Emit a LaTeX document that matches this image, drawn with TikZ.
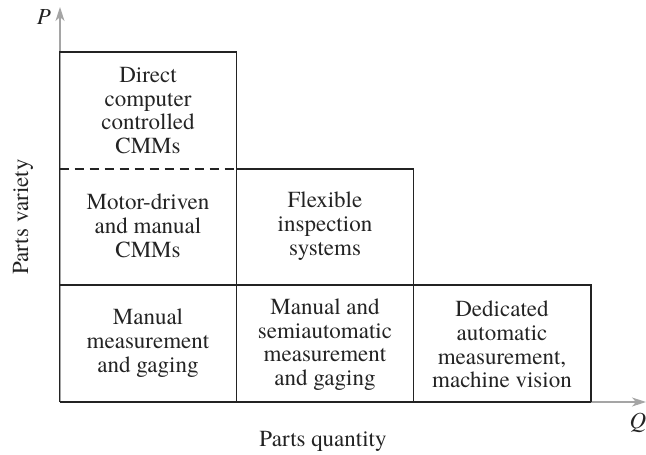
\documentclass[tikz,border=0pt]{standalone}
\usepackage{fontspec}
\setmainfont{TeX Gyre Termes}
\usetikzlibrary{arrows.meta}
\definecolor{axisgray}{RGB}{165,165,165}
\definecolor{boxline}{RGB}{35,35,35}
\tikzset{
  axisline/.style={draw=axisgray, line width=1.2pt, -{Stealth[length=14pt,width=9pt,inset=4pt]}},
  cellline/.style={draw=boxline, line width=1.4pt},
  dashline/.style={draw=boxline, line width=1.4pt, dash pattern=on 9.5pt off 5.5pt},
  celltext/.style={align=center, inner sep=0pt, font=\rmfamily\fontsize{23}{23.7}\selectfont, text=boxline},
  axistext/.style={inner sep=0pt, font=\rmfamily\fontsize{23}{23.7}\selectfont, text=boxline},
}
\begin{document}
\begin{tikzpicture}[x=1pt, y=-1pt]
\useasboundingbox (0,0) rectangle (646,455);
% axes
\coordinate (O) at (60,402);
\coordinate (Ptip) at (60,7);
\coordinate (Qtip) at (646,402);
\draw[axisline] (O) -- (Ptip);
\draw[axisline] (O) -- (Qtip);
% cell corners
\coordinate (a1) at (59.5,52);
\coordinate (a2) at (236.5,52);
\coordinate (b0) at (59.5,169);
\coordinate (b1) at (236.5,169);
\coordinate (b2) at (413.5,169);
\coordinate (c0) at (59.5,285);
\coordinate (c3) at (591,285);
\coordinate (d0) at (59.5,402);
\coordinate (d1) at (236.5,402);
\coordinate (d2) at (413.5,402);
\coordinate (d3) at (591,402);
% outlines
\draw[cellline] (d0) -- (a1) -- (a2) -- (d1);
\draw[dashline] (b0) -- (b1);
\draw[cellline] (b1) -- (b2) -- (d2);
\draw[cellline] (c0) -- (c3) -- (d3);
\draw[cellline] (d0) -- (d3);
% texts
\node[celltext] (t1) at (148,110.5) {Direct\\computer\\controlled\\CMMs};
\node[celltext] (t2) at (148,226) {Motor-driven\\and manual\\CMMs};
\node[celltext] (t3) at (325,226) {Flexible\\inspection\\systems};
\node[celltext] (t4) at (148,343) {Manual\\measurement\\and gaging};
\node[celltext] (t5) at (325,344.5) {Manual and\\semiautomatic\\measurement\\and gaging};
\node[celltext] (t6) at (502,344.5) {Dedicated\\automatic\\measurement,\\machine vision};
% axis labels
\node[axistext, anchor=base] (P) at (44,24) {\itshape P};
\node[axistext, anchor=base] (Q) at (638,428) {\itshape Q};
\node[axistext, anchor=base] (qty) at (323,446) {Parts quantity};
\node[axistext, anchor=base, rotate=90] (var) at (28,217) {Parts variety};
\end{tikzpicture}
\end{document}
